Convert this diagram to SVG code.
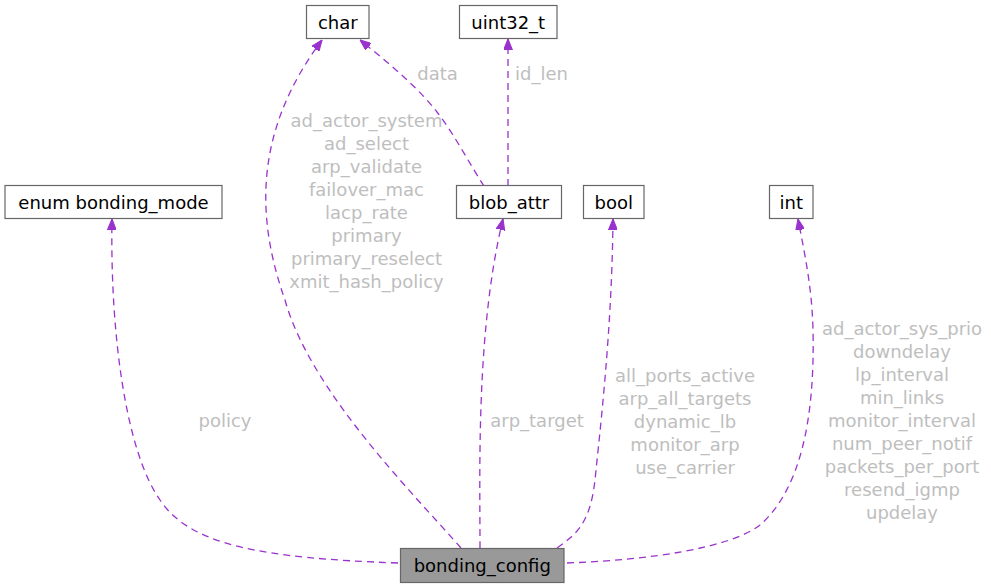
<svg xmlns="http://www.w3.org/2000/svg" width="991" height="588" viewBox="0 0 991 588">
<style>
.box{fill:#ffffff;stroke:#666666;stroke-width:1.2}
.main{fill:#999999;stroke:#666666;stroke-width:1.2}
.nt{font-family:"DejaVu Sans",sans-serif;font-size:18px;fill:#000000;text-anchor:middle}
.lbl{font-family:"DejaVu Sans",sans-serif;font-size:18px;fill:#bebebe;text-anchor:middle}
.edge{fill:none;stroke:#9a32cd;stroke-width:1.3;stroke-dasharray:7,5;marker-end:url(#arr)}
</style>
<defs>
<marker id="arr" viewBox="0 0 10 8" refX="10" refY="4" markerWidth="11" markerHeight="9" markerUnits="userSpaceOnUse" orient="auto">
<path d="M0,0 L10,4 L0,8 z" fill="#9a32cd" stroke="#9a32cd" stroke-width="1"/>
</marker>
</defs>
<rect width="991" height="588" fill="#ffffff"/>
<g id="connectors">
<path class="edge" d="M398,563 C260,558 190,545 160,500 C125,450 110,330 112,219"/>
<path class="edge" d="M461,548 C410,490 310,390 285,300 C255,215 255,130 322,40"/>
<path class="edge" d="M484,186 C470,165 455,135 437,112 C420,90 395,68 360,40"/>
<path class="edge" d="M508,186 L508,39"/>
<path class="edge" d="M480,548 C480,470 476,330 503,219"/>
<path class="edge" d="M557,548 C575,535 590,525 595,480 C600,430 612,330 613,219"/>
<path class="edge" d="M567,563 C650,560 730,548 760,525 C800,490 815,420 813,330 C812,290 806,260 798,219"/>
</g>
<g id="labels">
<text class="lbl" x="437.5" y="80">data</text>
<text class="lbl" x="541.5" y="80">id_len</text>
<text class="lbl" x="366.5" y="127">ad_actor_system</text>
<text class="lbl" x="366.5" y="150">ad_select</text>
<text class="lbl" x="366.5" y="173">arp_validate</text>
<text class="lbl" x="366.5" y="196">failover_mac</text>
<text class="lbl" x="366.5" y="219">lacp_rate</text>
<text class="lbl" x="366.5" y="242">primary</text>
<text class="lbl" x="366.5" y="265">primary_reselect</text>
<text class="lbl" x="366.5" y="288">xmit_hash_policy</text>
<text class="lbl" x="225" y="427">policy</text>
<text class="lbl" x="537" y="427">arp_target</text>
<text class="lbl" x="685" y="382">all_ports_active</text>
<text class="lbl" x="685" y="405">arp_all_targets</text>
<text class="lbl" x="685" y="428">dynamic_lb</text>
<text class="lbl" x="685" y="451">monitor_arp</text>
<text class="lbl" x="685" y="474">use_carrier</text>
<text class="lbl" x="902" y="335">ad_actor_sys_prio</text>
<text class="lbl" x="902" y="358">downdelay</text>
<text class="lbl" x="902" y="381">lp_interval</text>
<text class="lbl" x="902" y="404">min_links</text>
<text class="lbl" x="902" y="427">monitor_interval</text>
<text class="lbl" x="902" y="450">num_peer_notif</text>
<text class="lbl" x="902" y="473">packets_per_port</text>
<text class="lbl" x="902" y="496">resend_igmp</text>
<text class="lbl" x="902" y="519">updelay</text>
</g>
<g id="node-char"><rect class="box" x="306.5" y="5.5" width="62.5" height="33"/><text class="nt" x="337.75" y="28.5">char</text></g>
<g id="node-uint32_t"><rect class="box" x="459.5" y="5.5" width="97.5" height="33"/><text class="nt" x="508.25" y="28.5">uint32_t</text></g>
<g id="node-enum-bonding_mode"><rect class="box" x="5" y="185.5" width="217" height="33"/><text class="nt" x="113.5" y="208.5">enum bonding_mode</text></g>
<g id="node-blob_attr"><rect class="box" x="456.5" y="185.5" width="105" height="33"/><text class="nt" x="509" y="208.5">blob_attr</text></g>
<g id="node-bool"><rect class="box" x="583.5" y="185.5" width="60.5" height="33"/><text class="nt" x="613.75" y="208.5">bool</text></g>
<g id="node-int"><rect class="box" x="769.5" y="185.5" width="43.5" height="33"/><text class="nt" x="791.25" y="208.5">int</text></g>
<g id="node-bonding_config"><rect class="main" x="400.5" y="548.5" width="163.5" height="34"/><text class="nt" x="482.25" y="571.5">bonding_config</text></g>
</svg>
